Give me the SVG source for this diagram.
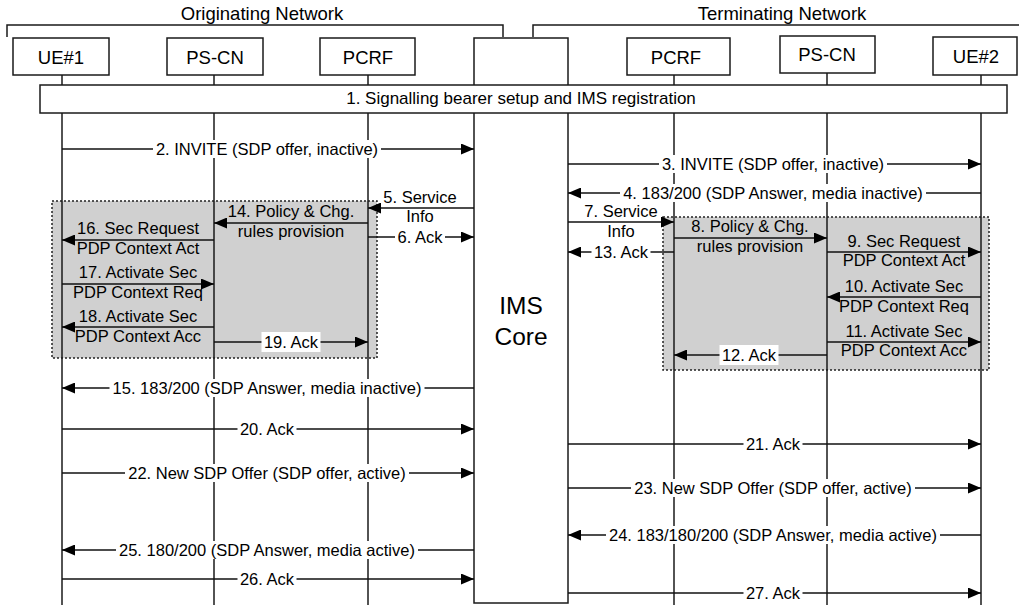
<svg xmlns="http://www.w3.org/2000/svg" width="1019" height="605" viewBox="0 0 1019 605">
<defs>
<marker id="ah" markerUnits="userSpaceOnUse" markerWidth="13" markerHeight="11" refX="13" refY="5.5" orient="auto">
<path d="M0,0 L13,5.5 L0,11 z" fill="#000"/>
</marker>
<style>
text{font-family:"Liberation Sans",Arial,sans-serif;fill:#000;text-anchor:middle}
.hdr{font-size:18.5px}
.nl{font-size:18.5px}
.msg{font-size:16.5px}
.ims{font-size:24.5px}
.box{fill:#fff;stroke:#1a1a1a;stroke-width:1.5}
.life{stroke:#1a1a1a;stroke-width:1.5;fill:none}
.br{stroke:#1a1a1a;stroke-width:1.5;fill:none}
.grp{fill:#d0d0d0;stroke:#222;stroke-width:1.5;stroke-dasharray:2,2}
.arr{stroke:#111;stroke-width:1.5;fill:none;marker-end:url(#ah)}
.bg{fill:#fff}
</style>
</defs>

<g id="headers">
<text class="hdr" x="262" y="20">Originating Network</text>
<path class="br" d="M7,37 V25 H503 V37"/>
<text class="hdr" x="782" y="20">Terminating Network</text>
<path class="br" d="M533,37 V25 H1030"/>
</g>

<g id="procedure-boxes">
<rect class="grp" x="52" y="201" width="325" height="157"/>
<rect class="grp" x="663" y="217" width="326" height="153"/>
</g>

<g id="lifelines">
<line class="life" x1="62" y1="75" x2="62" y2="605"/>
<line class="life" x1="214" y1="75" x2="214" y2="605"/>
<line class="life" x1="368" y1="75" x2="368" y2="605"/>
<line class="life" x1="674" y1="75" x2="674" y2="605"/>
<line class="life" x1="827" y1="73" x2="827" y2="605"/>
<line class="life" x1="981" y1="75" x2="981" y2="605"/>
</g>

<g id="ims-core">
<rect class="box" x="474" y="38" width="94" height="565"/>
<text class="ims" x="521" y="314">IMS</text>
<text class="ims" x="521" y="345">Core</text>
</g>
<g id="ue1"><rect class="box" x="13" y="38" width="96" height="37"/><text class="nl" x="61" y="64">UE#1</text></g>
<g id="pscn1"><rect class="box" x="167" y="38" width="96" height="37"/><text class="nl" x="215" y="64">PS-CN</text></g>
<g id="pcrf1"><rect class="box" x="320" y="38" width="95" height="37"/><text class="nl" x="368" y="64">PCRF</text></g>
<g id="pcrf2"><rect class="box" x="627" y="38" width="103" height="37"/><text class="nl" x="676" y="64">PCRF</text></g>
<g id="pscn2"><rect class="box" x="780" y="36" width="95" height="37"/><text class="nl" x="827" y="61">PS-CN</text></g>
<g id="ue2"><rect class="box" x="933" y="37" width="84" height="38"/><text class="nl" x="976" y="63">UE#2</text></g>

<g id="signalling-bar">
<rect class="box" x="40" y="85" width="967" height="28"/>
<text class="msg" x="521" y="104" style="font-size:17px">1. Signalling bearer setup and IMS registration</text>
</g>

<g id="connectors">
<line class="arr" x1="62" y1="149" x2="474" y2="149"/>
<line class="arr" x1="568" y1="164" x2="981" y2="164"/>
<line class="arr" x1="981" y1="193" x2="568" y2="193"/>
<line class="arr" x1="474" y1="208" x2="368" y2="208"/>
<line class="arr" x1="368" y1="237" x2="474" y2="237"/>
<line class="arr" x1="368" y1="223" x2="214" y2="223"/>
<line class="arr" x1="214" y1="240" x2="62" y2="240"/>
<line class="arr" x1="62" y1="284" x2="214" y2="284"/>
<line class="arr" x1="214" y1="327" x2="62" y2="327"/>
<line class="arr" x1="214" y1="342" x2="368" y2="342"/>
<line class="arr" x1="568" y1="222" x2="674" y2="222"/>
<line class="arr" x1="674" y1="252" x2="568" y2="252"/>
<line class="arr" x1="674" y1="238" x2="827" y2="238"/>
<line class="arr" x1="827" y1="252" x2="981" y2="252"/>
<line class="arr" x1="981" y1="297" x2="827" y2="297"/>
<line class="arr" x1="827" y1="342" x2="981" y2="342"/>
<line class="arr" x1="827" y1="355" x2="674" y2="355"/>
<line class="arr" x1="474" y1="388" x2="62" y2="388"/>
<line class="arr" x1="62" y1="429" x2="474" y2="429"/>
<line class="arr" x1="568" y1="444" x2="981" y2="444"/>
<line class="arr" x1="62" y1="473" x2="474" y2="473"/>
<line class="arr" x1="568" y1="488" x2="981" y2="488"/>
<line class="arr" x1="981" y1="535" x2="568" y2="535"/>
<line class="arr" x1="474" y1="550" x2="62" y2="550"/>
<line class="arr" x1="62" y1="579" x2="474" y2="579"/>
<line class="arr" x1="568" y1="593" x2="981" y2="593"/>
</g>

<g id="labels">
<rect class="bg" x="153" y="140" width="228" height="18"/><text class="msg" x="267" y="155">2. INVITE (SDP offer, inactive)</text>
<rect class="bg" x="659" y="155" width="228" height="18"/><text class="msg" x="773" y="170">3. INVITE (SDP offer, inactive)</text>
<rect class="bg" x="620" y="184" width="306" height="18"/><text class="msg" x="773" y="199">4. 183/200 (SDP Answer, media inactive)</text>
<text class="msg" x="420" y="203">5. Service</text><text class="msg" x="420" y="222">Info</text>
<rect class="bg" x="395" y="228" width="50" height="18"/><text class="msg" x="420" y="243">6. Ack</text>
<text class="msg" x="291" y="217">14. Policy &amp; Chg.</text><text class="msg" x="291" y="237">rules provision</text>
<text class="msg" x="138" y="234">16. Sec Request</text><text class="msg" x="138" y="254">PDP Context Act</text>
<text class="msg" x="138" y="278">17. Activate Sec</text><text class="msg" x="138" y="298">PDP Context Req</text>
<text class="msg" x="138" y="322">18. Activate Sec</text><text class="msg" x="138" y="342">PDP Context Acc</text>
<rect class="bg" x="261.5" y="332" width="59" height="20"/><text class="msg" x="291" y="348">19. Ack</text>
<text class="msg" x="621" y="217">7. Service</text><text class="msg" x="621" y="237">Info</text>
<rect class="bg" x="591.5" y="243" width="59" height="18"/><text class="msg" x="621" y="258">13. Ack</text>
<text class="msg" x="750" y="232">8. Policy &amp; Chg.</text><text class="msg" x="750" y="252">rules provision</text>
<text class="msg" x="904" y="247">9. Sec Request</text><text class="msg" x="904" y="266">PDP Context Act</text>
<text class="msg" x="904" y="292">10. Activate Sec</text><text class="msg" x="904" y="312">PDP Context Req</text>
<text class="msg" x="904" y="337">11. Activate Sec</text><text class="msg" x="904" y="356">PDP Context Acc</text>
<rect class="bg" x="719.5" y="345" width="59" height="20"/><text class="msg" x="749" y="361">12. Ack</text>
<rect class="bg" x="109.5" y="379" width="315" height="18"/><text class="msg" x="267" y="394">15. 183/200 (SDP Answer, media inactive)</text>
<rect class="bg" x="237.5" y="420" width="59" height="18"/><text class="msg" x="267" y="435">20. Ack</text>
<rect class="bg" x="743.5" y="435" width="59" height="18"/><text class="msg" x="773" y="450">21. Ack</text>
<rect class="bg" x="125" y="464" width="284" height="18"/><text class="msg" x="267" y="479">22. New SDP Offer (SDP offer, active)</text>
<rect class="bg" x="631" y="479" width="284" height="18"/><text class="msg" x="773" y="494">23. New SDP Offer (SDP offer, active)</text>
<rect class="bg" x="606" y="526" width="334" height="18"/><text class="msg" x="773" y="541">24. 183/180/200 (SDP Answer, media active)</text>
<rect class="bg" x="116" y="541" width="302" height="18"/><text class="msg" x="267" y="556">25. 180/200 (SDP Answer, media active)</text>
<rect class="bg" x="237.5" y="570" width="59" height="18"/><text class="msg" x="267" y="585">26. Ack</text>
<rect class="bg" x="743.5" y="584" width="59" height="18"/><text class="msg" x="773" y="599">27. Ack</text>
</g>
</svg>
